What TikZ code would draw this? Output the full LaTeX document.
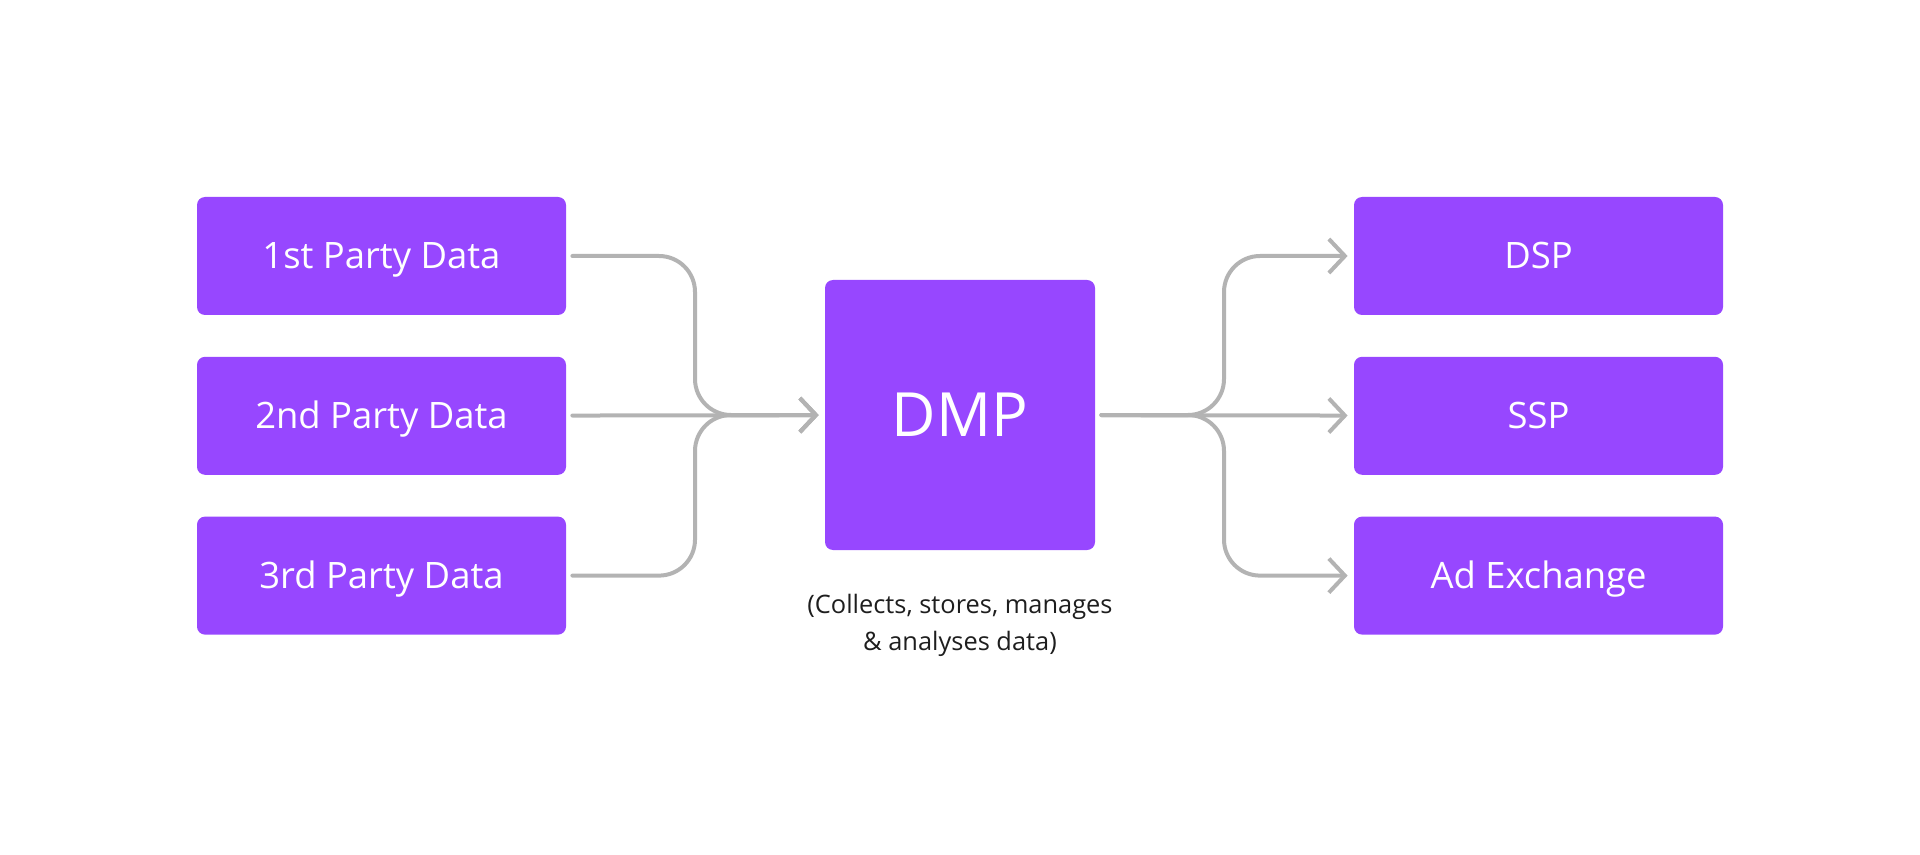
\documentclass[tikz,border=0pt]{standalone}
\usepackage{fontspec}
\setmainfont{Open Sans}
\usepackage{tikz}
\usetikzlibrary{arrows.meta,positioning}
\definecolor{dmppurple}{RGB}{151,71,255}
\definecolor{linkgray}{RGB}{179,179,179}
\definecolor{notegray}{RGB}{30,30,30}

\begin{document}
\begin{tikzpicture}[
    x=0.5pt, y=-0.5pt,
    node distance=20.5pt,
    databox/.style={rectangle, fill=dmppurple, text=white, rounded corners=4pt, minimum width=184.5pt, minimum height=59pt, inner sep=0pt, text height=13pt, text depth=0pt, font=\fontsize{18.2}{20}\selectfont},
    hub/.style={rectangle, fill=dmppurple, text=white, rounded corners=4pt, minimum width=135pt, minimum height=135pt, inner sep=0pt, text height=21.8pt, text depth=0pt, font=\fontsize{30.5}{34}\selectfont},
    note/.style={align=center, text=notegray, font=\fontsize{12.7}{18.5}\selectfont},
    link/.style={draw=linkgray, line width=2pt, line cap=round, rounded corners=18pt, shorten <=3pt, shorten >=3pt, -{Straight Barb[length=8pt, width=17pt]}}
]
\useasboundingbox (0,0) rectangle (1920,855);

% sources
\node[databox] (first) at (381.5,256) {1st Party Data};
\node[databox, below=of first] (second) {2nd Party Data};
\node[databox, below=of second] (third) {3rd Party Data};

% platform
\node[hub] (dmp) at (960,415) {DMP};
\node[note, below=18.5pt of dmp] (dmpnote) {(Collects, stores, manages\\\& analyses data)};

% targets
\node[databox] (dsp) at (1538.5,256) {DSP};
\node[databox, below=of dsp] (ssp) {SSP};
\node[databox, below=of ssp] (adx) {Ad Exchange};

\coordinate (join) at (695,415);
\coordinate (fork) at (1224,415);

\draw[link] (first) -| (join) -- (dmp);
\draw[link] (second) -- (dmp);
\draw[link] (third) -| (join) -- (dmp);

\draw[link] (dmp) -- (fork) |- (dsp);
\draw[link] (dmp) -- (ssp);
\draw[link] (dmp) -- (fork) |- (adx);
\end{tikzpicture}
\end{document}
